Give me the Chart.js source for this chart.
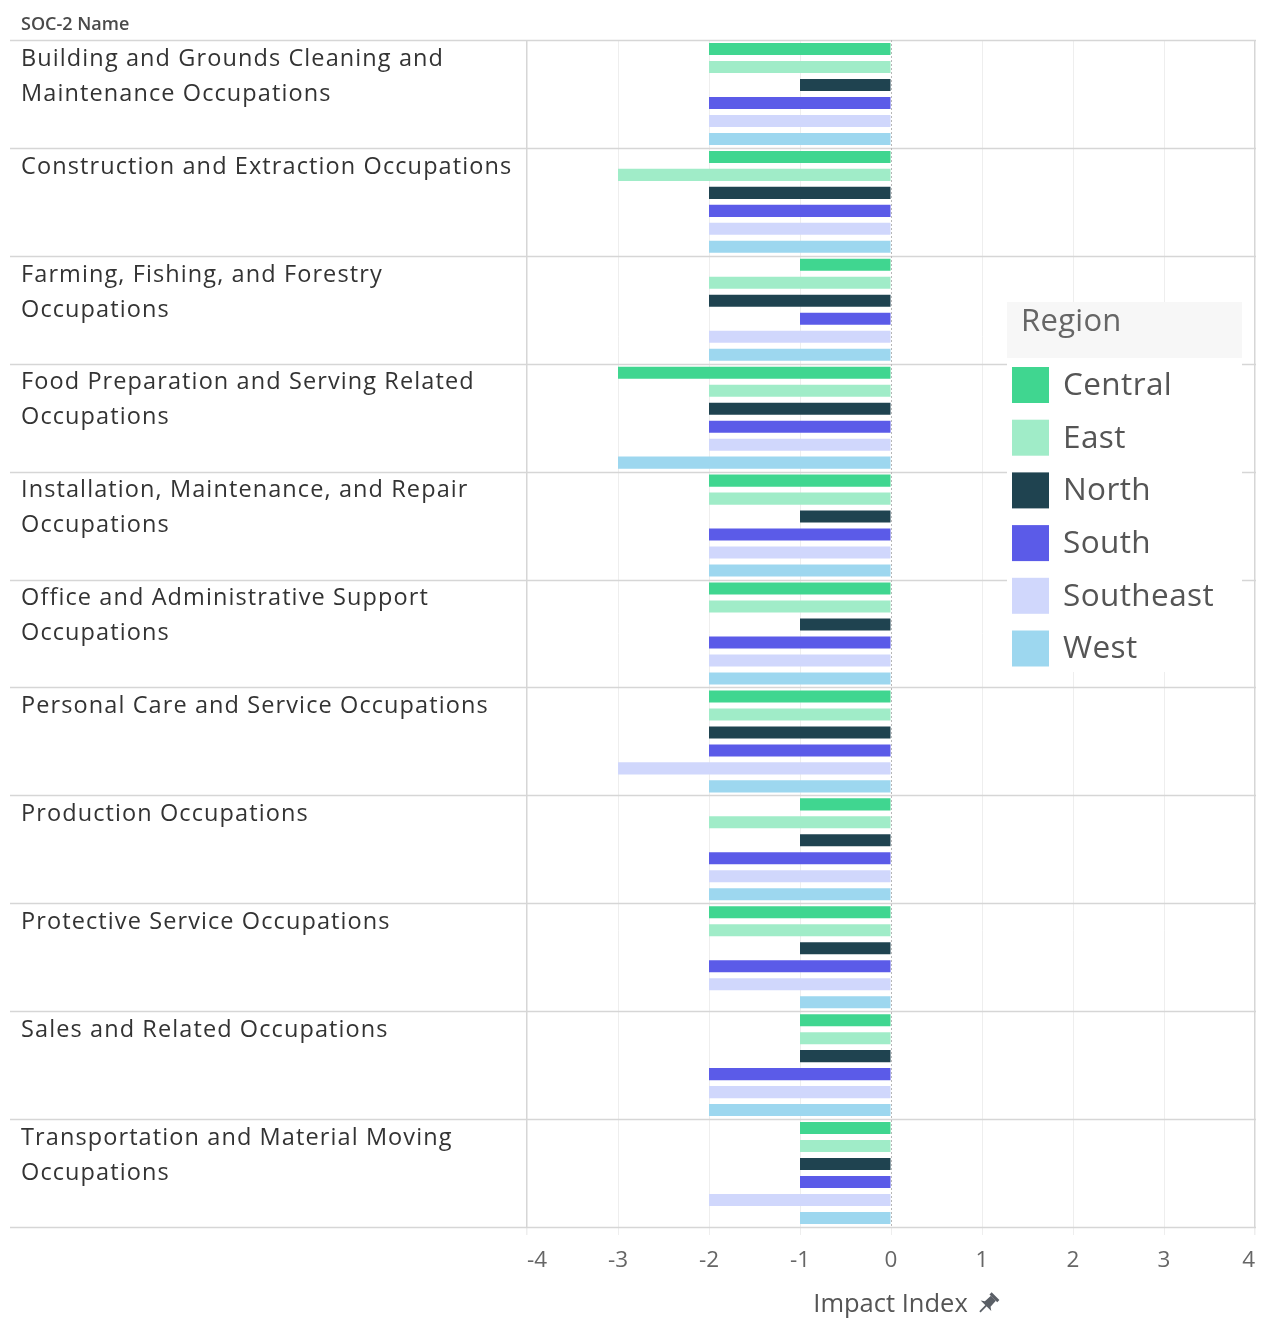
<!DOCTYPE html>
<html>
<head>
<meta charset="utf-8">
<title>Impact Index by SOC-2 Name and Region</title>
<script src="https://cdn.jsdelivr.net/npm/chart.js@4.4.1/dist/chart.umd.min.js"></script>
<style>
    html, body { margin: 0; padding: 0; background: #fff; }
    #wrap { position: relative; width: 1267px; height: 1326px; }
</style>
</head>
<body>
<div id="wrap"><canvas id="chart" width="1267" height="1326"></canvas></div>
<script>
// occupation groups (label lines as shown in the row header)
var categories = [
    ["Building and Grounds Cleaning and", "Maintenance Occupations"],
    ["Construction and Extraction Occupations"],
    ["Farming, Fishing, and Forestry", "Occupations"],
    ["Food Preparation and Serving Related", "Occupations"],
    ["Installation, Maintenance, and Repair", "Occupations"],
    ["Office and Administrative Support", "Occupations"],
    ["Personal Care and Service Occupations"],
    ["Production Occupations"],
    ["Protective Service Occupations"],
    ["Sales and Related Occupations"],
    ["Transportation and Material Moving", "Occupations"]
];
var regions = ["Central", "East", "North", "South", "Southeast", "West"];
var regionColors = ["#40d690", "#a0ecc8", "#1f4350", "#5b5be8", "#d0d7fc", "#9dd7ef"];

var central   = [-2, -2, -1, -3, -2, -2, -2, -1, -2, -1, -1];
var east      = [-2, -3, -2, -2, -2, -2, -2, -2, -2, -1, -1];
var north     = [-1, -2, -2, -2, -1, -1, -2, -1, -1, -1, -1];
var south     = [-2, -2, -1, -2, -2, -2, -2, -2, -2, -2, -1];
var southeast = [-2, -2, -2, -2, -2, -2, -3, -2, -2, -2, -2];
var west      = [-2, -2, -2, -3, -2, -2, -2, -2, -1, -2, -1];
var regionValues = [central, east, north, south, southeast, west];

var xMin = -4, xMax = 4;
var headerTitle = "SOC-2 Name";
var legendTitle = "Region";
var axisTitle = "Impact Index";

var FONT = "'Open Sans', 'Noto Sans', sans-serif";

var datasets = regions.map(function (r, i) {
    return {
        label: r,
        data: regionValues[i],
        backgroundColor: regionColors[i],
        borderWidth: 0,
        barPercentage: 0.67,
        categoryPercentage: 1.0
    };
});

function drawPin(ctx, cx, cy) {
    ctx.save();
    ctx.translate(cx, cy);
    ctx.rotate(Math.PI / 4);
    ctx.fillStyle = "#5a5f66";
    ctx.strokeStyle = "#5a5f66";
    // head
    ctx.fillRect(-5.5, -11, 11, 3);
    // body
    ctx.beginPath();
    ctx.moveTo(-3.5, -8);
    ctx.lineTo(3.5, -8);
    ctx.lineTo(4, 0);
    ctx.lineTo(7.5, 2.5);
    ctx.lineTo(-7.5, 2.5);
    ctx.lineTo(-4, 0);
    ctx.closePath();
    ctx.fill();
    // needle
    ctx.lineWidth = 1.8;
    ctx.beginPath();
    ctx.moveTo(0, 2);
    ctx.lineTo(0, 11);
    ctx.stroke();
    ctx.restore();
}

var tablePlugin = {
    id: 'tableLayout',
    beforeDatasetsDraw: function (chart) {
        var ctx = chart.ctx, area = chart.chartArea;
        var n = categories.length;
        var rowH = (area.bottom - area.top) / n;
        ctx.save();
        // row dividers running across the header column
        ctx.strokeStyle = "#d6d6d6";
        ctx.lineWidth = 1.5;
        for (var i = 0; i <= n; i++) {
            var y = Math.round(area.top + i * rowH) + 0.5;
            ctx.beginPath();
            ctx.moveTo(10, y);
            ctx.lineTo(area.right + 1, y);
            ctx.stroke();
        }
        ctx.restore();
    },
    afterDraw: function (chart) {
        var ctx = chart.ctx, area = chart.chartArea;
        var xs = chart.scales.x;
        var n = categories.length;
        var rowH = (area.bottom - area.top) / n;
        ctx.save();

        // zero reference line
        var x0 = Math.round(xs.getPixelForValue(0)) + 0.5;
        ctx.strokeStyle = "#b8b8b8";
        ctx.lineWidth = 1;
        ctx.setLineDash([2, 2]);
        ctx.beginPath();
        ctx.moveTo(x0, area.top);
        ctx.lineTo(x0, area.bottom);
        ctx.stroke();
        ctx.setLineDash([]);

        // header
        ctx.fillStyle = "#4a4a4a";
        ctx.font = "600 18px " + FONT;
        ctx.textBaseline = "middle";
        ctx.textAlign = "left";
        ctx.letterSpacing = "0px";
        ctx.fillText(headerTitle, 21, 25);

        // row labels, top aligned
        ctx.fillStyle = "#333";
        ctx.font = "23.5px " + FONT;
        ctx.letterSpacing = "1.1px";
        categories.forEach(function (lines, i) {
            var top = area.top + i * rowH;
            lines.forEach(function (line, j) {
                ctx.fillText(line, 21, top + 19 + j * 35);
            });
        });

        // legend
        var lx = 1007, ly = 302, lw = 235;
        var step = 52.7;
        ctx.fillStyle = "#fff";
        ctx.fillRect(lx, ly, lw, 370);
        ctx.fillStyle = "#f7f7f7";
        ctx.fillRect(lx, ly, lw, 56);
        ctx.fillStyle = "#666";
        ctx.font = "31px " + FONT;
        ctx.letterSpacing = "0.3px";
        ctx.fillText(legendTitle, 1021, 322);
        ctx.font = "31.5px " + FONT;
        ctx.letterSpacing = "0.4px";
        chart.data.datasets.forEach(function (ds, i) {
            var cy = 385 + i * step;
            ctx.fillStyle = ds.backgroundColor;
            ctx.fillRect(1012, cy - 18, 37, 36);
            ctx.fillStyle = "#555";
            ctx.fillText(ds.label, 1063, cy + 1);
        });

        // axis title with pin
        ctx.fillStyle = "#555";
        ctx.font = "25.5px " + FONT;
        ctx.letterSpacing = "0px";
        ctx.textAlign = "center";
        var cx = x0 - 1;
        ctx.fillText(axisTitle, cx, 1305);
        var tw = ctx.measureText(axisTitle).width;
        drawPin(ctx, cx + tw / 2 + 20, 1304);
        ctx.restore();
    }
};

var chart = new Chart(document.getElementById('chart'), {
    type: 'bar',
    data: {
        labels: categories.map(function (c) { return c.join(' '); }),
        datasets: datasets
    },
    options: {
        indexAxis: 'y',
        responsive: false,
        animation: false,
        layout: { padding: { left: 527, right: 10, top: 40, bottom: 0 } },
        scales: {
            y: {
                display: false,
                offset: true
            },
            x: {
                min: xMin,
                max: xMax,
                afterFit: function (scale) { scale.height = 99; },
                border: { display: false },
                grid: {
                    color: function (c) {
                        var v = c.tick ? c.tick.value : null;
                        if (v === 0) return 'rgba(0,0,0,0)';
                        if (v === xMin || v === xMax) return '#d6d6d6';
                        return '#eeeeee';
                    },
                    lineWidth: function (c) {
                        var v = c.tick ? c.tick.value : null;
                        return (v === xMin || v === xMax) ? 1.5 : 1;
                    },
                    tickLength: 8,
                    tickColor: '#eeeeee'
                },
                ticks: {
                    stepSize: 1,
                    align: 'inner',
                    padding: 12,
                    color: '#666',
                    font: { family: FONT, size: 22.5 }
                },
                title: { display: false }
            }
        },
        plugins: {
            legend: { display: false },
            tooltip: { enabled: false }
        }
    },
    plugins: [tablePlugin]
});
</script>
</body>
</html>
